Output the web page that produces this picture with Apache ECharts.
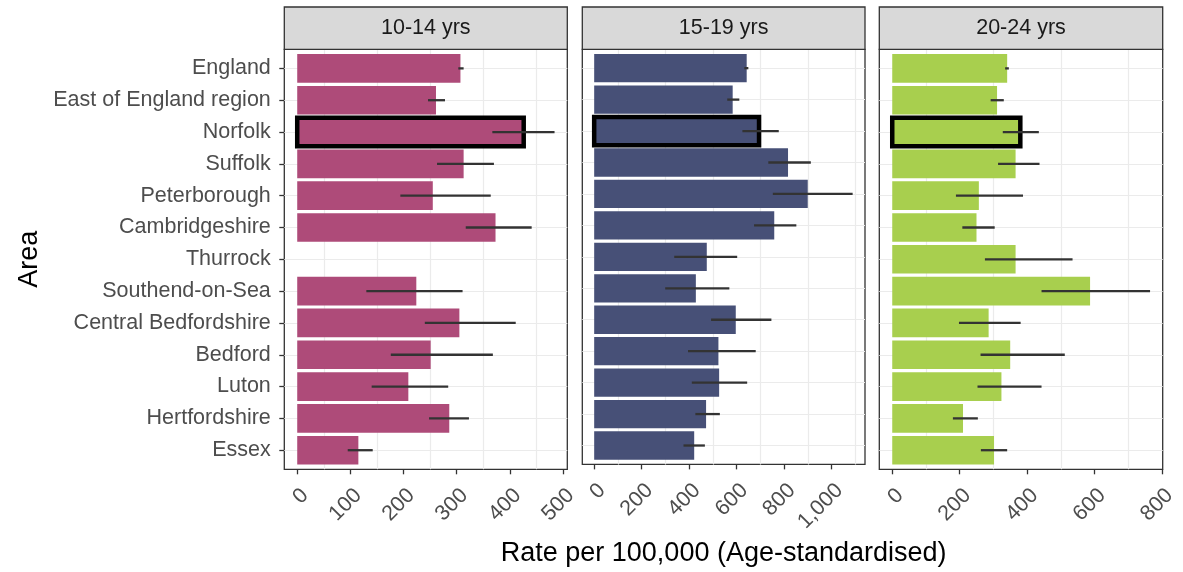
<!DOCTYPE html>
<html><head><meta charset="utf-8">
<script src="https://cdn.jsdelivr.net/npm/echarts@6/dist/echarts.min.js"></script>
<style>html,body{margin:0;padding:0;background:#fff}#c{width:1183px;height:572px}</style>
</head><body><div id="c"></div>
<script>
const categories = ['England','East of England region','Norfolk','Suffolk','Peterborough','Cambridgeshire','Thurrock','Southend-on-Sea','Central Bedfordshire','Bedford','Luton','Hertfordshire','Essex'];
const panelTitles = ['10-14 yrs','15-19 yrs','20-24 yrs'];

const rate1014  = [307, 261, 426, 313, 255, 373, null, 224, 305, 251, 209, 286, 115];
const lower1014 = [303, 246, 367, 263, 194, 317, null, 130, 240, 176, 140, 248, 95];
const upper1014 = [313, 278, 484, 370, 364, 441, null, 311, 411, 368, 284, 323, 142];

const rate1519  = [642, 583, 694, 816, 899, 758, 474, 428, 596, 523, 526, 471, 421];
const lower1519 = [632, 560, 624, 733, 752, 673, 337, 299, 492, 395, 411, 426, 376];
const upper1519 = [649, 611, 777, 912, 1088, 851, 602, 569, 746, 680, 644, 529, 466];

const rate2024  = [341, 311, 380, 366, 257, 250, 366, 587, 286, 350, 324, 210, 302];
const lower2024 = [335, 292, 328, 314, 189, 208, 275, 443, 198, 262, 253, 180, 263];
const upper2024 = [346, 331, 435, 437, 388, 304, 535, 765, 381, 512, 443, 254, 341];

const ticks1014 = [0, 100, 200, 300, 400, 500];
const ticks1519 = [0, 200, 400, 600, 800, 1000];
const ticks2024 = [0, 200, 400, 600, 800];

const highlightArea = 'Norfolk';
const yTitle = 'Area';
const xTitle = 'Rate per 100,000 (Age-standardised)';

const FONT = 'Liberation Sans, Arial, sans-serif';
const TOP = 49.3, H = 420, STRIP_TOP = 7;
const catIdx = categories.map((c, k) => k);
const panels = [
  {title: panelTitles[0], rate: rate1014, lo: lower1014, hi: upper1014, ticks: ticks1014, color: '#AE4B79', left: 284.3, width: 283, min: -24.3, max: 508},
  {title: panelTitles[1], rate: rate1519, lo: lower1519, hi: upper1519, ticks: ticks1519, color: '#475077', left: 582.3, width: 282.7, min: -50, max: 1140},
  {title: panelTitles[2], rate: rate2024, lo: lower2024, hi: upper2024, ticks: ticks2024, color: '#A8CF4E', left: 879.3, width: 283.4, min: -38.4, max: 802.5}
];

function minorLines(ticks, max) {
  const step = ticks[1] - ticks[0];
  const out = [];
  for (let k = 0; k < ticks.length; k++) {
    const m = ticks[k] + step / 2;
    if (m < max) out.push(m);
  }
  return out;
}

const grid = [], xAxis = [], yAxis = [], series = [], graphic = [];
panels.forEach((p, i) => {
  grid.push({left: p.left, top: TOP, width: p.width, height: H, show: true, backgroundColor: '#fff', borderColor: '#333', borderWidth: 1.3, containLabel: false});
  xAxis.push({
    type: 'value', gridIndex: i, min: p.min, max: p.max, position: 'bottom',
    splitLine: {show: false}, axisLine: {show: false, onZero: false},
    axisTick: {show: true, customValues: p.ticks, length: 5, lineStyle: {color: '#333', width: 1.3}},
    axisLabel: {customValues: p.ticks, rotate: 45, margin: 15, verticalAlign: 'top', fontSize: 21.5, color: '#4D4D4D', fontFamily: FONT,
      formatter: v => Number(v).toLocaleString('en-US')},
    name: i === 1 ? xTitle : '', nameLocation: 'middle', nameGap: 72,
    nameTextStyle: {fontSize: 27, color: '#000', fontFamily: FONT}
  });
  yAxis.push({
    type: 'value', gridIndex: i, min: -0.6, max: categories.length - 0.4, inverse: true, position: 'left',
    axisLine: {show: false, onZero: false}, splitLine: {show: false},
    axisTick: {show: i === 0, customValues: catIdx, length: 5, lineStyle: {color: '#333', width: 1.3}},
    axisLabel: {show: i === 0, customValues: catIdx, formatter: v => categories[Math.round(v)] || '', margin: 13.5, fontSize: 21.5, color: '#4D4D4D', fontFamily: FONT},
    name: i === 0 ? yTitle : '', nameLocation: 'middle', nameGap: 241, nameRotate: 90,
    nameTextStyle: {fontSize: 27, color: '#000', fontFamily: FONT}
  });
  const gl = minorLines(p.ticks, p.max).map(v => ({xAxis: v})).concat(catIdx.map(k => ({yAxis: k})));
  series.push({
    type: 'line', xAxisIndex: i, yAxisIndex: i, data: [], z: 1, silent: true,
    markLine: {z: 1, silent: true, animation: false, symbol: ['none', 'none'], label: {show: false},
      lineStyle: {color: '#EBEBEB', width: 1.2, type: 'solid'}, emphasis: {disabled: true}, data: gl}
  });
  const barData = [];
  p.rate.forEach((v, k) => { if (v != null) barData.push([v, k]); });
  series.push({
    type: 'custom', xAxisIndex: i, yAxisIndex: i, z: 2, animation: false, silent: true,
    encode: {x: 0, y: 1},
    data: barData,
    renderItem: (params, api) => {
      const k = api.value(1);
      const s = api.coord([0, k]);
      const e = api.coord([api.value(0), k]);
      const h = api.size([0, 0.9])[1];
      const hl = categories[k] === highlightArea;
      return {type: 'rect', shape: {x: s[0], y: s[1] - h / 2, width: e[0] - s[0], height: h},
        style: {fill: p.color, stroke: hl ? '#000' : null, lineWidth: hl ? 4.5 : 0}};
    }
  });
  const eb = [];
  p.lo.forEach((l, k) => { if (l != null) eb.push([l, p.hi[k], k]); });
  series.push({
    type: 'custom', xAxisIndex: i, yAxisIndex: i, z: 3, animation: false, silent: true,
    encode: {x: [0, 1], y: 2},
    data: eb,
    renderItem: (params, api) => {
      const a = api.coord([api.value(0), api.value(2)]);
      const b = api.coord([api.value(1), api.value(2)]);
      return {type: 'line', shape: {x1: a[0], y1: a[1], x2: b[0], y2: b[1]}, style: {stroke: '#333', lineWidth: 2.3}};
    }
  });
  graphic.push({type: 'rect', shape: {x: p.left, y: STRIP_TOP, width: p.width, height: TOP - STRIP_TOP},
    style: {fill: '#D9D9D9', stroke: '#333', lineWidth: 1.3}, z: 10});
  graphic.push({type: 'text', x: p.left + p.width / 2, y: (STRIP_TOP + TOP) / 2, z: 11,
    style: {text: p.title, fill: '#1A1A1A', fontSize: 21.5, fontFamily: FONT, textAlign: 'center', textVerticalAlign: 'middle', verticalAlign: 'middle'}});
});

const chart = echarts.init(document.getElementById('c'), null, {renderer: 'canvas'});
chart.setOption({animation: false, backgroundColor: '#fff', grid, xAxis, yAxis, series, graphic});
</script></body></html>
